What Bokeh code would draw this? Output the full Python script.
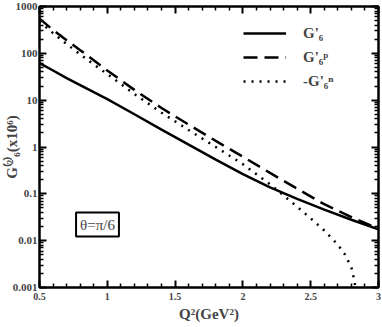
from bokeh.plotting import figure
from bokeh.models import (LogAxis, LinearAxis, Label, Legend, LegendItem,
                          FixedTicker)
from bokeh.embed import file_html
from bokeh.resources import INLINE

# ---- data ----
q2 = [0.5, 0.6, 0.7, 0.8, 0.9, 1.0, 1.2, 1.4, 1.6, 1.8, 2.0, 2.2, 2.4, 2.6, 2.8, 3.0]
g6 = [62, 43, 29.5, 21, 14.8, 10.5, 5.0, 2.34, 1.12, 0.54, 0.263, 0.138, 0.078, 0.046, 0.028, 0.0174]
g6p = [550, 316, 190, 117, 71, 43, 16.6, 6.8, 3.0, 1.35, 0.62, 0.28, 0.129, 0.060, 0.032, 0.018]

q2n = [0.5, 0.6, 0.7, 0.8, 0.9, 1.0, 1.2, 1.4, 1.6, 1.8, 2.0, 2.2, 2.4, 2.5, 2.6, 2.7, 2.75, 2.8, 2.82, 2.83]
g6n = [480, 270, 158, 95, 58, 36, 13.5, 5.4, 2.3, 1.0, 0.43, 0.16, 0.053, 0.030, 0.0165, 0.0082, 0.0052, 0.0027, 0.0015, 0.001]

x_ticks = [0.5, 1, 1.5, 2, 2.5, 3]
x_tick_labels = ["0.5", "1", "1.5", "2", "2.5", "3"]
y_ticks = [0.001, 0.01, 0.1, 1, 10, 100, 1000]
y_tick_labels = ["0.001", "0.01", "0.1", "1", "10", "100", "1000"]

legend_labels = ["G'\u2086", "G'\u2086\u1d56", "-G'\u2086\u207f"]
theta_text = "\u03b8=\u03c0/6"
x_title = "Q\u00b2(GeV\u00b2)"
y_title = "G\u207d\u00b2\u207e\u2086(x10\u2076)"

FONT = "Liberation Serif"

p = figure(width=382, height=327, x_range=(0.5, 3), y_range=(0.001, 1000),
           y_axis_type="log", output_backend="svg", toolbar_location=None,
           min_border_left=39, min_border_right=4, min_border_top=6,
           min_border_bottom=40)
p.grid.visible = False
p.outline_line_color = "black"
p.outline_line_width = 2

x_minor = [round(0.5 + 0.1 * i, 2) for i in range(26) if i % 5 != 0]
y_minor = [m * 10 ** e for e in range(-3, 3) for m in range(2, 10)]


def style(ax, show_labels=True, size="10px"):
    ax.axis_line_width = 2
    ax.major_tick_in = 7
    ax.major_tick_out = 0
    ax.minor_tick_in = 4
    ax.minor_tick_out = 0
    ax.major_tick_line_width = 2
    ax.minor_tick_line_width = 1.5
    ax.major_label_text_font = FONT
    ax.major_label_text_font_style = "bold"
    ax.major_label_text_font_size = size if show_labels else "0px"
    ax.major_label_standoff = 3 if show_labels else 0


xa = p.xaxis[0]
xa.ticker = FixedTicker(ticks=x_ticks, minor_ticks=x_minor)
xa.major_label_overrides = {(int(t) if float(t).is_integer() else t): l
                            for t, l in zip(x_ticks, x_tick_labels)}
style(xa, True, "10px")
xa.major_label_standoff = 5
xa.axis_label = x_title
xa.axis_label_text_font = FONT
xa.axis_label_text_font_style = "bold"
xa.axis_label_text_font_size = "15px"
xa.axis_label_standoff = 3

ya = p.yaxis[0]
ya.ticker = FixedTicker(ticks=y_ticks, minor_ticks=y_minor)
ya.major_label_overrides = {(int(t) if float(t).is_integer() else t): l
                            for t, l in zip(y_ticks, y_tick_labels)}
style(ya, True, "11px")
ya.major_label_standoff = 2
ya.axis_label = y_title
ya.axis_label_text_font = FONT
ya.axis_label_text_font_style = "bold"
ya.axis_label_text_font_size = "15px"
ya.axis_label_standoff = -10

top = LinearAxis(ticker=FixedTicker(ticks=x_ticks, minor_ticks=x_minor))
style(top, False)
top.major_label_text_color = None
p.add_layout(top, "above")
right = LogAxis(ticker=FixedTicker(ticks=y_ticks, minor_ticks=y_minor))
style(right, False)
right.major_label_text_color = None
p.add_layout(right, "right")

r1 = p.line(q2, g6, line_color="black", line_width=2.5)
r2 = p.line(q2, g6p, line_color="black", line_width=2.5, line_dash="14 7")
r3 = p.line(q2n, g6n, line_color="black", line_width=2.5, line_dash="2 6")

leg = Legend(items=[LegendItem(label=legend_labels[0], renderers=[r1]),
                    LegendItem(label=legend_labels[1], renderers=[r2]),
                    LegendItem(label=legend_labels[2], renderers=[r3])],
             location=(204, 196), glyph_width=43, glyph_height=20,
             label_height=20, label_standoff=17, spacing=4, padding=0,
             margin=0, border_line_color=None, background_fill_alpha=0,
             label_text_font=FONT, label_text_font_style="bold",
             label_text_font_size="15px")
p.add_layout(leg)

p.add_layout(Label(x=58, y=63, x_units="screen", y_units="screen",
                   text=theta_text, text_font=FONT, text_font_size="15px",
                   text_align="center", text_baseline="middle",
                   border_line_color="black", border_line_width=2,
                   background_fill_color="white", padding=4))

open("out.html", "w").write(file_html(p, INLINE))
